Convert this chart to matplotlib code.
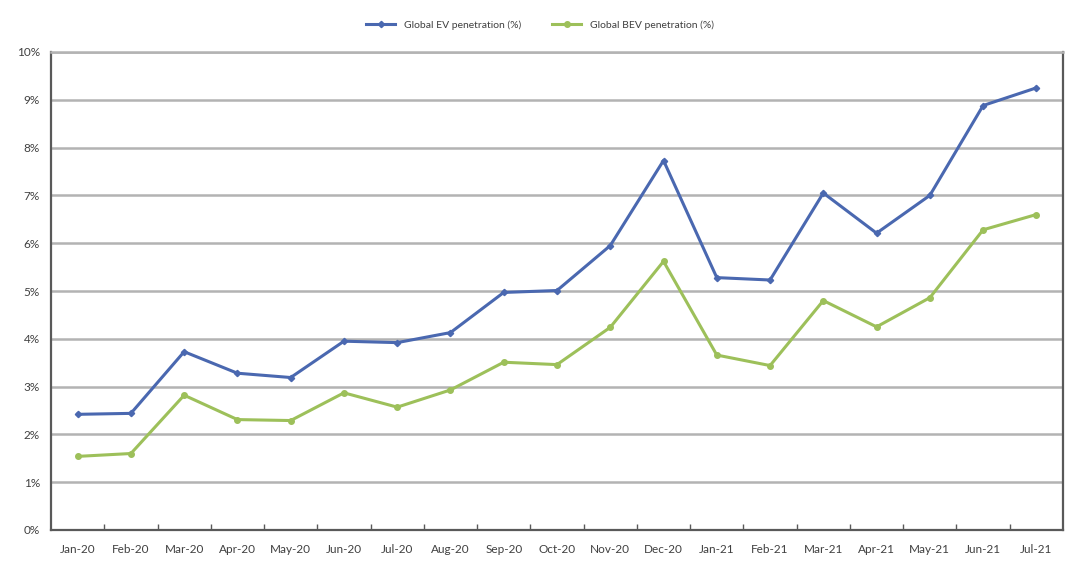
import matplotlib
matplotlib.use("Agg")
import matplotlib.pyplot as plt
from matplotlib.ticker import FixedLocator, PercentFormatter

months = ["Jan-20", "Feb-20", "Mar-20", "Apr-20", "May-20", "Jun-20", "Jul-20",
          "Aug-20", "Sep-20", "Oct-20", "Nov-20", "Dec-20", "Jan-21", "Feb-21",
          "Mar-21", "Apr-21", "May-21", "Jun-21", "Jul-21"]
ev_pen = [2.42, 2.44, 3.73, 3.28, 3.19, 3.95, 3.92, 4.13, 4.97, 5.01, 5.95, 7.73,
          5.28, 5.23, 7.05, 6.21, 7.00, 8.88, 9.25]
bev_pen = [1.54, 1.60, 2.82, 2.31, 2.29, 2.87, 2.57, 2.93, 3.51, 3.46, 4.24, 5.62,
           3.66, 3.44, 4.80, 4.25, 4.86, 6.28, 6.60]

plt.rcParams['font.family'] = ['Lato', 'DejaVu Sans']

fig = plt.figure(figsize=(10.8, 5.64), dpi=100)
ax = fig.add_axes([51/1080, 34/564, (1063-51)/1080, (530-52)/564])

x = list(range(len(months)))
ax.plot(x, ev_pen, color="#4a68b0", lw=2.2, marker="D", ms=3.2,
        label="Global EV penetration (%)", zorder=3)
ax.plot(x, bev_pen, color="#9dc05a", lw=2.2, marker="o", ms=4,
        label="Global BEV penetration (%)", zorder=3)

ax.set_xlim(-0.5, len(months) - 0.5)
ax.set_ylim(0, 10)
ax.yaxis.set_major_locator(FixedLocator(range(0, 11)))
ax.yaxis.set_major_formatter(PercentFormatter(decimals=0))
ax.grid(axis="y", color="#b3b3b3", lw=1.8, zorder=0)
ax.set_axisbelow(True)

ax.set_xticks([i - 0.5 for i in range(1, len(months))])
ax.set_xticklabels([])
ax.set_xticks(x, minor=True)
ax.set_xticklabels(months, minor=True)
ax.tick_params(axis="x", which="major", direction="in", length=4, width=1, color="#595959")
ax.tick_params(axis="x", which="minor", length=0, pad=10, labelsize=8.5, labelcolor="#404040")
ax.tick_params(axis="y", length=0, pad=8, labelsize=8.5, labelcolor="#404040")

for side in ["left", "bottom", "right"]:
    ax.spines[side].set_color("#595959")
    ax.spines[side].set_linewidth(1.6)
ax.spines["top"].set_color("#b3b3b3")
ax.spines["top"].set_linewidth(1.8)

fig.legend(loc="center", bbox_to_anchor=(0.5, 25/564 * -1 + 1), ncol=2, frameon=False,
           fontsize=7.5, handlelength=2.8, columnspacing=3, labelcolor="#404040")

fig.savefig("out.png", dpi=100, facecolor="white")
